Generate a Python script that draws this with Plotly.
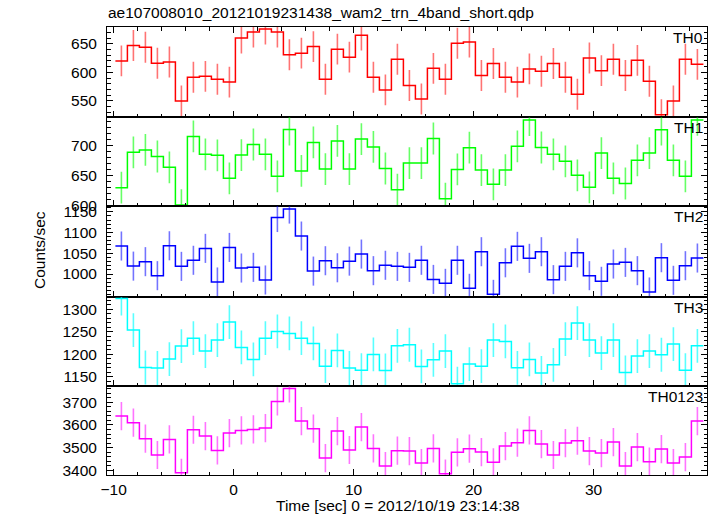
import plotly.graph_objects as go
from plotly.subplots import make_subplots

# ---- data ----
BIN_WIDTH = 1.0
TIME = [round(-9.35 + i * BIN_WIDTH, 2) for i in range(49)]  # bin centres [s]

TH0 = [620, 647, 644, 616, 618, 550, 591.5, 593, 588, 583,
       660, 670.5, 675.7, 670.5, 630.7, 633.6, 645, 588, 640.6, 626.6,
       665, 591.5, 569.3, 623, 577, 553.5, 607, 588, 651, 653,
       594.4, 615.5, 591.5, 583, 606, 602, 615.5, 591.5, 561.7, 625,
       603, 623, 594.4, 621, 584.5, 526, 550, 623, 614]
TH1 = [630, 689, 693, 682, 664, 601, 715.5, 685.6, 684, 645.6,
       684.4, 702, 685.6, 649, 727, 658, 705.5, 661, 708, 661,
       711, 698, 662, 626.7, 671, 671, 712, 611.7, 660.5, 696.7,
       659.4, 635.6, 659.4, 699, 742.8, 697, 685.6, 674, 650.6, 630.6,
       687.8, 645.6, 637, 675.6, 687.8, 726.7, 675.6, 649, 743]
TH2 = [1067.4, 1019, 1029.7, 996, 1068, 1018.4, 1033, 1061.7, 980.8, 1064,
       1014.4, 1016, 985.6, 1136, 1156.4, 1091.4, 1007, 1032, 1015, 1031,
       1048, 1008, 1021, 1018.4, 1016, 1033, 987, 977.5, 1033, 965.5,
       1053.7, 951, 1027, 1066.6, 1037.7, 1053.7, 986.4, 1018.4, 1051, 996,
       982.4, 1024, 1028, 1008, 956.7, 1039.3, 984.8, 1020, 1038.5]
TH3 = [1324, 1254, 1171, 1170, 1189.7, 1218.5, 1236, 1207.4, 1231.8, 1271.7,
       1215.5, 1189, 1236, 1251, 1246.6, 1236, 1224.4, 1174, 1209, 1170,
       1165, 1200, 1164.5, 1219, 1221.4, 1173.4, 1188, 1207.4, 1135, 1178.6,
       1174, 1231.8, 1228.8, 1170.4, 1189, 1159, 1177, 1234, 1269.5, 1231.8,
       1203, 1231.8, 1160, 1196.3, 1207.4, 1199.3, 1223, 1165, 1219]
TH0123 = [3639, 3610, 3539.5, 3468, 3536.6, 3390, 3579, 3551, 3488, 3564.4,
          3576, 3580.5, 3586.4, 3703.5, 3760.6, 3617, 3583.5, 3454.6, 3573, 3490,
          3590.8, 3497, 3419.5, 3487, 3485.4, 3432.6, 3497, 3386, 3479.5, 3495.6,
          3481, 3435.6, 3507, 3522, 3576, 3516, 3468, 3520.5, 3530.7, 3485.4,
          3476.6, 3525, 3419.5, 3503, 3438.5, 3494, 3432.6, 3459, 3617]

NAMES = ["TH0", "TH1", "TH2", "TH3", "TH0123"]
VALUES = [TH0, TH1, TH2, TH3, TH0123]
ERRORS = [27, 26.5, 35, 37.5, 62]

# labelled y ticks of each panel
YTICKS = [[550, 600, 650], [600, 650, 700], [1000, 1050, 1100, 1150],
          [1150, 1200, 1250, 1300], [3400, 3500, 3600, 3700]]

TITLE = "ae107008010_20121019231438_wam2_trn_4band_short.qdp"
XTITLE = "Time [sec] 0 = 2012/10/19 23:14:38"
YTITLE = "Counts/sec"

# ---- style ----
COLORS = ["#ff0000", "#00ff00", "#0000ff", "#00ffff", "#ff00ff"]
ERR_COLORS = ["rgba(255,0,0,0.55)", "rgba(0,255,0,0.6)", "rgba(0,0,255,0.55)",
              "rgba(0,255,255,0.65)", "rgba(255,0,255,0.55)"]
YRANGES = [[521.4, 679.3], [599.5, 747.3], [944.6, 1163.7], [1129.4, 1327.3], [3380, 3770]]
MINOR = [10, 10, 10, 10, 20]
DOMAINS = [[0.7984, 1.0], [0.6004, 0.7984], [0.3973, 0.6004], [0.198, 0.3973], [0.0, 0.198]]

FONT = "Liberation Sans, Arial, Helvetica, sans-serif"
FS = 15.5

fig = make_subplots(rows=5, cols=1, shared_xaxes=True, vertical_spacing=0)

for i, (vals, err) in enumerate(zip(VALUES, ERRORS)):
    r = i + 1
    half = BIN_WIDTH / 2
    edges = [t - half for t in TIME] + [TIME[-1] + half]
    ys = list(vals) + [vals[-1]]
    fig.add_trace(go.Scatter(
        x=TIME, y=vals, mode="markers",
        marker=dict(size=1, color="rgba(0,0,0,0)"),
        error_y=dict(type="constant", value=err, color=ERR_COLORS[i],
                     thickness=1.6, width=0),
        hoverinfo="skip", showlegend=False), row=r, col=1)
    fig.add_trace(go.Scatter(
        x=edges, y=ys, mode="lines",
        line=dict(color=COLORS[i], width=1.5, shape="hv"),
        hoverinfo="skip", showlegend=False), row=r, col=1)

common = dict(showline=True, linecolor="black", linewidth=1, ticks="inside",
              ticklen=6, tickwidth=1, tickcolor="black", showgrid=False,
              zeroline=False, tickfont=dict(family=FONT, size=FS, color="black"))

for i in range(5):
    r = i + 1
    fig.update_xaxes(range=[-10.55, 39.45], dtick=10, tick0=0,
                     minor=dict(dtick=2, tick0=0, ticks="inside", ticklen=3.5,
                                tickcolor="black", showgrid=False),
                     mirror="ticks" if r == 1 else True,
                     showticklabels=(r == 5), ticklabelstandoff=0,
                     row=r, col=1, **common)
    fig.update_yaxes(range=YRANGES[i], tickmode="array", tickvals=YTICKS[i],
                     minor=dict(dtick=MINOR[i], tick0=0, ticks="inside",
                                ticklen=3.5, tickcolor="black", showgrid=False),
                     mirror="ticks", domain=DOMAINS[i], ticklabelstandoff=6,
                     row=r, col=1, **common)
    xr = "x" if r == 1 else f"x{r}"
    yr = "y" if r == 1 else f"y{r}"
    fig.add_annotation(text=NAMES[i], xref=f"{xr} domain", yref=f"{yr} domain",
                       x=1, y=1, xanchor="right", yanchor="middle",
                       xshift=-2, yshift=-10.5, showarrow=False,
                       font=dict(family=FONT, size=FS, color="black"))

# titles (plot area: x 107..707 px, y 27..475 px)
def px(xp):
    return (xp - 107) / 600.0

def py(yp):
    return (475 - yp) / 448.0

fig.add_annotation(text=TITLE, xref="paper", yref="paper", x=px(106), y=py(12.5),
                   xanchor="left", yanchor="middle", showarrow=False,
                   font=dict(family=FONT, size=FS, color="black"))
fig.add_annotation(text=XTITLE, xref="paper", yref="paper", x=px(398), y=py(505.5),
                   xanchor="center", yanchor="middle", showarrow=False,
                   font=dict(family=FONT, size=FS, color="black"))
fig.add_annotation(text=YTITLE, xref="paper", yref="paper", x=px(40), y=py(250),
                   xanchor="center", yanchor="middle", textangle=-90, showarrow=False,
                   font=dict(family=FONT, size=FS, color="black"))

fig.update_layout(width=717, height=516, margin=dict(l=107, r=10, t=27, b=41),
                  paper_bgcolor="white", plot_bgcolor="white",
                  font=dict(family=FONT, size=FS, color="black"))

fig.write_html("out.html", config={"displayModeBar": False},
               post_script="document.body.style.margin='0';document.body.style.overflow='hidden';")
